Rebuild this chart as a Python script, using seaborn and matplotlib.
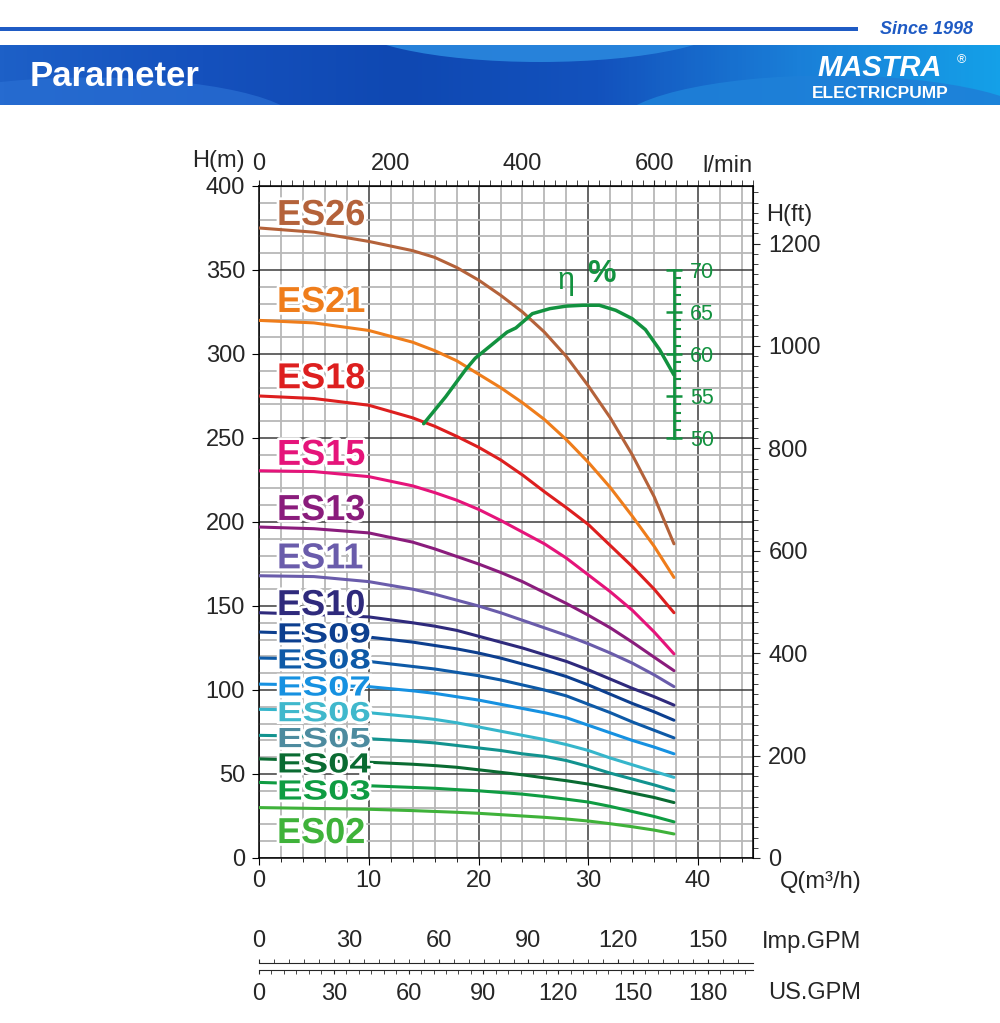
import numpy as np
import pandas as pd
import matplotlib
matplotlib.use("Agg")
import matplotlib.pyplot as plt
import matplotlib.patheffects as pe
from matplotlib.ticker import MultipleLocator, FixedLocator
from matplotlib.patches import Rectangle, Ellipse, PathPatch
from matplotlib.colors import LinearSegmentedColormap
from matplotlib.textpath import TextPath
from matplotlib.font_manager import FontProperties
from matplotlib.transforms import Affine2D, ScaledTranslation
import seaborn as sns


# pump curves, head H (m) read at these flow points Q (m3/h)
q_points = [0, 5, 10, 14, 16, 18, 20, 22, 24, 26, 28, 30, 32, 34, 36, 37.8]

h_es26 = [375, 372.5, 367, 361.5, 357.5, 351.5, 344, 335, 325, 313, 298.5, 281, 262, 240, 215, 187]
h_es21 = [320, 318.5, 314, 307, 302, 296, 288, 280, 271, 261, 249, 235.5, 220.5, 203.5, 185.5, 167]
h_es18 = [275, 273.5, 269.5, 262, 257, 251, 244.5, 237, 228, 218, 208.5, 198.5, 186, 173.5, 160, 146]
h_es15 = [230.5, 230, 227, 221.5, 217.5, 213, 207.5, 201, 194, 187, 178.5, 168.5, 158.5, 147.5, 134.5, 121.5]
h_es13 = [197, 196, 193.5, 188, 184, 179.5, 175, 170, 164.5, 158, 151.5, 144.5, 137, 128.5, 119.5, 111.5]
h_es11 = [168, 167.5, 164.5, 160, 157, 153.5, 150, 146, 141.5, 137, 132.5, 127.5, 122, 116, 109, 102]
h_es10 = [146, 145, 143.5, 140, 138, 135.5, 132, 128.5, 125, 121, 117, 112, 106.5, 101, 96, 91]
h_es09 = [134.5, 133.5, 131.5, 128.5, 126.5, 124.5, 122, 119, 115.5, 112, 108, 103, 97.5, 92, 87, 82]
h_es08 = [119, 118.5, 117, 114, 112.5, 110.5, 108.5, 106, 103, 100, 96.5, 91.5, 86.5, 81, 76, 71.5]
h_es07 = [103.5, 103, 102, 99.5, 98, 96, 94, 91.5, 89, 86.5, 83.5, 79, 74.5, 70, 66, 62]
h_es06 = [88.5, 88, 86.5, 84, 82.5, 80.5, 78, 75.5, 73, 70.5, 67.5, 64, 59.5, 55.5, 51.5, 48]
h_es05 = [73, 72.5, 71, 69.5, 68.5, 67, 65.5, 64, 62, 60.5, 58, 54.5, 50.5, 47, 43.5, 40]
h_es04 = [59, 58, 57, 55.8, 55, 54, 52.5, 51, 49.5, 47.7, 46, 44, 41.5, 38.7, 36, 33]
h_es03 = [45, 44, 43, 42, 41.5, 40.7, 40, 39, 38, 36.6, 35, 33.3, 30.7, 27.7, 24.7, 21.5]
h_es02 = [30, 29.5, 29, 28.2, 27.7, 27.2, 26.6, 25.8, 25, 24.2, 23.2, 22, 20.4, 18.6, 16.6, 14.3]

models = ["ES26", "ES21", "ES18", "ES15", "ES13", "ES11", "ES10", "ES09",
          "ES08", "ES07", "ES06", "ES05", "ES04", "ES03", "ES02"]
heads = [h_es26, h_es21, h_es18, h_es15, h_es13, h_es11, h_es10, h_es09,
         h_es08, h_es07, h_es06, h_es05, h_es04, h_es03, h_es02]

# efficiency curve (%)
eff_q = [15.0, 17.0, 18.8, 19.7, 21.2, 22.6, 23.4, 24.9, 26.5, 28.0, 29.5, 31.0, 32.5, 34.0, 35.2, 36.5, 37.8]
eff_pct = [51.7, 54.9, 58.1, 59.5, 61.1, 62.6, 63.1, 64.8, 65.4, 65.7, 65.8, 65.8, 65.2, 64.2, 62.9, 60.5, 57.5]
eff_ticks = [50, 55, 60, 65, 70]

lmin_ticks = [0, 200, 400, 600]
imp_ticks = [0, 30, 60, 90, 120, 150]
us_ticks = [0, 30, 60, 90, 120, 150, 180]

line_colors = ["#b4623a", "#ef7d1b", "#dd1f1f", "#e5147a", "#8a1c7c", "#6a5cab", "#2f2a7c", "#0d3f8f",
               "#0e5aa7", "#1691e1", "#36b6cb", "#12938f", "#0a6b32", "#0f9c42", "#3fb23a"]
label_colors = ["#b4623a", "#ef7d1b", "#dd1f1f", "#e5147a", "#8a1c7c", "#6a5cab", "#2f2a7c", "#0d3f8f",
                "#0e5aa7", "#1691e1", "#40b8cc", "#4d8b9f", "#0a6b32", "#0f9c42", "#3fb23a"]
eff_color = "#12923f"

# label layout: baseline height (m), wide style for the small ones
label_base = [376.8, 325, 279.6, 234, 201.2, 172.4, 144.6, 128.3, 112.8, 96.7, 81.4, 66, 50.9, 34.8, 8.9]
label_small = [False] * 7 + [True] * 7 + [False]

rows = []
for m, h in zip(models, heads):
    for q, v in zip(q_points, h):
        rows.append((m, q, v))
df = pd.DataFrame(rows, columns=["model", "Q", "H"])

sns.set_style("white")
plt.rcParams["font.family"] = ["Liberation Sans", "DejaVu Sans"]

fig = plt.figure(figsize=(10, 10.23), dpi=100)


def px(x, y):
    return x / 1000, 1 - y / 1023


# header decoration (pixel coordinates)
bg = fig.add_axes([0, 0, 1, 1], zorder=0)
bg.axis("off")
bg.add_patch(Rectangle((0, 27), 858, 4, color="#1f5bc4", lw=0))
bg.text(973, 30, "Since 1998", color="#1f5bc4", fontsize=13, fontweight="bold",
        fontstyle="italic", ha="right", va="center")
cmap = LinearSegmentedColormap.from_list("banner", ["#1d60c7", "#1551bd", "#0f48b2", "#1352bd", "#1a7fd8", "#14a0e8"])
bg.imshow(np.linspace(0, 1, 256).reshape(1, -1), extent=(0, 1000, 105, 45),
          cmap=cmap, aspect="auto", zorder=1)
banner = Rectangle((0, 45), 1000, 60, fill=False, lw=0)
bg.add_patch(banner)
for cen, w, hh, col, al in [((540, 18), 390, 88, "#2a88de", 0.9),
                            ((90, 125), 420, 95, "#2a70d4", 0.7),
                            ((830, 128), 430, 105, "#1e80d8", 0.9)]:
    e = Ellipse(cen, w, hh, color=col, alpha=al, lw=0, zorder=2)
    bg.add_patch(e)
    e.set_clip_path(banner)
bg.text(30, 76, "Parameter", color="white", fontsize=25, fontweight="bold", ha="left", va="center", zorder=3)
bg.text(880, 68, "MASTRA", color="white", fontsize=21, fontweight="heavy", fontstyle="italic",
        ha="center", va="center", zorder=3)
bg.text(961, 60, "®", color="white", fontsize=9, ha="center", va="center", zorder=3)
bg.text(880, 93, "ELECTRICPUMP", color="white", fontsize=12.5, fontweight="bold", ha="center", va="center", zorder=3)
bg.set_xlim(0, 1000)
bg.set_ylim(1023, 0)

# axis titles
fig.text(*px(218, 161), "H(m)", fontsize=17, ha="center", va="center")
fig.text(*px(727, 166), "l/min", fontsize=17, ha="center", va="center")
fig.text(*px(789, 215), "H(ft)", fontsize=17, ha="center", va="center")
fig.text(*px(862, 882), "Q(m³/h)", fontsize=17, ha="right", va="center")
fig.text(*px(861, 942), "Imp.GPM", fontsize=17, ha="right", va="center")
fig.text(*px(861, 993), "US.GPM", fontsize=17, ha="right", va="center")
fig.text(*px(566, 281), "η", fontsize=22, color=eff_color, ha="center", va="center", zorder=10)
fig.text(*px(601, 274), "%", fontsize=23, fontweight="bold", color=eff_color, ha="center", va="center", zorder=10)

# main chart
ax = fig.add_axes([0.259, 0.1613, 0.494, 0.6569], zorder=1)
sns.lineplot(data=df, x="Q", y="H", hue="model", palette=dict(zip(models, line_colors)),
             estimator=None, sort=False, lw=2.2, legend=False, ax=ax, zorder=3)
ax.set_xlim(0, 45)
ax.set_ylim(0, 400)
ax.set_xlabel("")
ax.set_ylabel("")
ax.xaxis.set_major_locator(MultipleLocator(10))
ax.xaxis.set_minor_locator(MultipleLocator(2))
ax.yaxis.set_major_locator(MultipleLocator(50))
ax.yaxis.set_minor_locator(MultipleLocator(10))
ax.set_axisbelow(True)
ax.grid(which="minor", color="#b8b8b8", lw=1.3)
ax.grid(which="major", color="#3c3c3c", lw=1.1)
ax.tick_params(which="both", top=False, right=False, left=True, bottom=True,
               direction="out", color="black", labelsize=17)
ax.tick_params(axis="x", which="major", length=5, pad=4)
ax.tick_params(axis="x", which="minor", length=3)
ax.tick_params(axis="y", which="major", length=5, pad=5)
ax.tick_params(axis="y", which="minor", length=0)
for s in ax.spines.values():
    s.set_color("black")
    s.set_linewidth(1.1)

# labels on the curves
stroke = [pe.withStroke(linewidth=4, foreground="white")]
bold = FontProperties(family="Liberation Sans", weight="bold")
k = fig.dpi / 72
for name, base, col, small in zip(models, label_base, label_colors, label_small):
    if small:
        path = TextPath((0, 0), name, size=20, prop=bold)
        tr = Affine2D().scale(1.38 * k, k) + ScaledTranslation(1.64, base, ax.transData)
        ax.add_patch(PathPatch(path, transform=tr, facecolor=col, lw=0, zorder=6, path_effects=stroke))
    else:
        ax.text(1.64, base, name, color=col, fontsize=26, fontweight="bold", ha="left",
                va="baseline", path_effects=stroke, zorder=6)

# top axis l/min
top = ax.secondary_xaxis("top", functions=(lambda q: q * 1000 / 60, lambda l: l * 60 / 1000))
top.xaxis.set_major_locator(FixedLocator(lmin_ticks))
top.xaxis.set_minor_locator(MultipleLocator(1000 / 60))
top.tick_params(which="both", direction="out", length=4, labelsize=17, pad=4)

# right axis H(ft)
ft = ax.secondary_yaxis("right", functions=(lambda m: m * 3.28084, lambda f: f / 3.28084))
ft.yaxis.set_major_locator(MultipleLocator(200))
ft.yaxis.set_minor_locator(MultipleLocator(20))
ft.tick_params(which="major", direction="out", length=5, labelsize=17, pad=6)
ft.tick_params(which="minor", direction="out", length=3.5)

# Imp.GPM and US.GPM scales under the chart
imp = ax.secondary_xaxis(-0.156, functions=(lambda q: q * 1000 / 60 / 4.54609, lambda g: g * 60 * 4.54609 / 1000))
imp.set_alignment("top")
imp.xaxis.set_major_locator(FixedLocator(imp_ticks))
imp.xaxis.set_minor_locator(MultipleLocator(5))
imp.tick_params(which="both", direction="out", length=3, labelsize=17, pad=5)
us = ax.secondary_xaxis(-0.167, functions=(lambda q: q * 1000 / 60 / 3.78541, lambda g: g * 60 * 3.78541 / 1000))
us.xaxis.set_major_locator(FixedLocator(us_ticks))
us.xaxis.set_minor_locator(MultipleLocator(5))
us.tick_params(which="both", direction="out", length=3, labelsize=17, pad=6)

# efficiency scale and curve
tw = ax.twinx()
sns.lineplot(x=eff_q, y=eff_pct, color=eff_color, lw=2.5, estimator=None, sort=False, ax=tw)
tw.set_ylim(0, 80)
tw.set_xlim(0, 45)
for side in ["left", "top", "bottom"]:
    tw.spines[side].set_visible(False)
tw.spines["right"].set_position(("data", 37.8))
tw.spines["right"].set_bounds(eff_ticks[0], eff_ticks[-1])
tw.spines["right"].set_color(eff_color)
tw.spines["right"].set_linewidth(2)
tw.yaxis.set_major_locator(FixedLocator(eff_ticks))
tw.yaxis.set_minor_locator(FixedLocator(list(range(eff_ticks[0], eff_ticks[-1] + 1))))
tw.tick_params(axis="y", which="major", direction="inout", length=11, width=1.8,
               color=eff_color, labelcolor=eff_color, labelsize=15.5, pad=6)
tw.tick_params(axis="y", which="minor", direction="out", length=5, width=1.5, color=eff_color)
tw.set_ylabel("")

fig.savefig("out.png", dpi=100)
